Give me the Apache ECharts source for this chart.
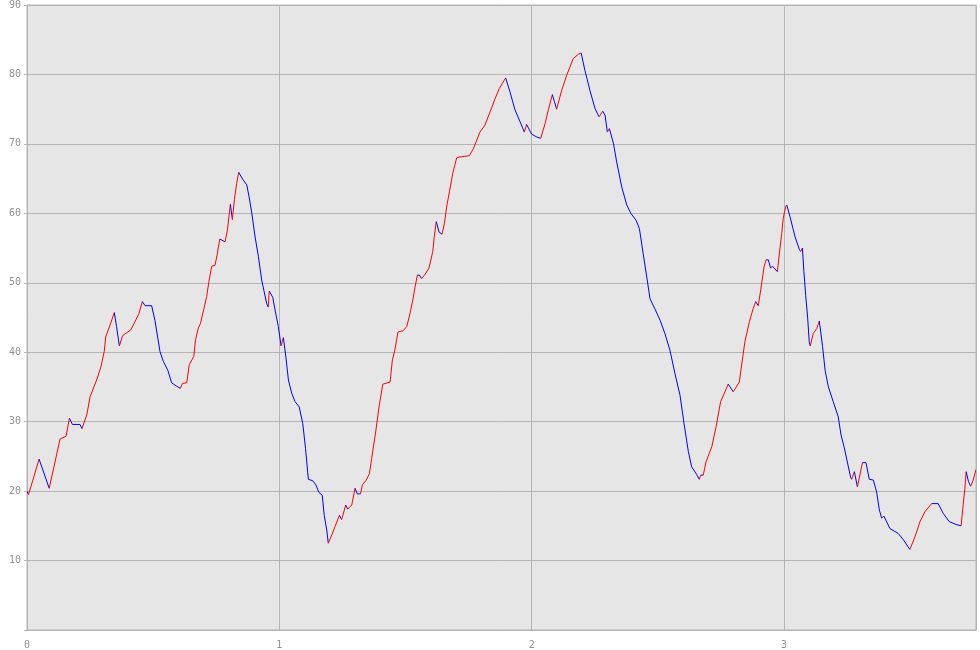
<!DOCTYPE html>
<html>
<head>
<meta charset="utf-8">
<script src="https://cdn.jsdelivr.net/npm/echarts@6/dist/echarts.min.js"></script>
<style>
html,body{margin:0;padding:0;background:#fff;}
#chart{width:980px;height:650px;}
</style>
</head>
<body>
<div id="chart"></div>
<script>
// Data
const xValues = [
0.000,0.006,0.048,0.088,0.131,0.155,0.168,0.180,0.210,0.218,0.237,0.250,0.276,0.293,0.306,0.312,0.329,0.346,0.355,0.366,
0.379,0.395,0.411,0.428,0.444,0.457,0.468,0.494,0.507,0.527,0.540,0.558,0.573,0.593,0.608,0.616,0.633,0.643,0.661,0.668,
0.679,0.687,0.700,0.712,0.721,0.732,0.745,0.754,0.764,0.785,0.794,0.806,0.814,0.822,0.831,0.839,0.855,0.871,0.881,0.891,
0.904,0.917,0.930,0.950,0.956,0.960,0.974,0.983,0.996,1.007,1.016,1.026,1.036,1.049,1.062,1.079,1.093,1.104,1.115,1.132,
1.145,1.157,1.170,1.178,1.188,1.194,1.208,1.221,1.238,1.247,1.263,1.271,1.287,1.300,1.309,1.322,1.329,1.343,1.357,1.366,
1.383,1.395,1.410,1.439,1.448,1.458,1.470,1.491,1.505,1.518,1.529,1.538,1.547,1.555,1.564,1.577,1.593,1.608,1.614,1.622,
1.633,1.645,1.654,1.663,1.674,1.687,1.703,1.712,1.753,1.769,1.795,1.815,1.835,1.855,1.872,1.897,1.914,1.934,1.954,1.971,
1.980,2.000,2.020,2.036,2.053,2.066,2.082,2.090,2.099,2.119,2.139,2.165,2.185,2.196,2.211,2.231,2.251,2.267,2.282,2.291,
2.300,2.308,2.324,2.337,2.357,2.377,2.393,2.414,2.427,2.442,2.458,2.469,2.489,2.509,2.528,2.548,2.568,2.588,2.604,2.621,
2.634,2.654,2.664,2.670,2.680,2.691,2.714,2.731,2.749,2.766,2.779,2.799,2.823,2.835,2.845,2.863,2.878,2.888,2.898,2.908,
2.921,2.929,2.938,2.947,2.954,2.974,2.981,2.991,2.997,3.007,3.011,3.024,3.044,3.061,3.066,3.073,3.079,3.086,3.094,3.100,
3.104,3.116,3.130,3.140,3.153,3.163,3.176,3.195,3.215,3.226,3.238,3.251,3.264,3.268,3.279,3.291,3.311,3.325,3.338,3.354,
3.367,3.378,3.387,3.396,3.420,3.453,3.473,3.499,3.519,3.539,3.558,3.585,3.611,3.631,3.655,3.682,3.702,3.708,3.717,3.722,
3.731,3.740,3.750,3.761
];
const yValues = [
20.0,19.5,24.6,20.4,27.5,27.9,30.5,29.6,29.6,29.0,31.0,33.6,36.0,37.9,40.1,42.2,43.9,45.7,43.7,40.9,
42.4,42.8,43.2,44.4,45.6,47.3,46.7,46.7,44.6,40.1,38.7,37.4,35.6,35.1,34.8,35.5,35.6,38.2,39.4,41.8,
43.5,44.1,46.1,48.0,50.2,52.4,52.5,54.1,56.3,55.9,57.5,61.3,59.1,62.0,64.3,65.9,64.9,64.1,62.2,60.0,
56.6,53.8,50.4,47.0,46.5,48.8,47.9,46.1,43.7,40.9,42.1,39.3,36.0,34.1,32.9,32.1,29.7,26.1,21.7,21.5,
20.9,19.8,19.4,16.5,14.4,12.5,13.7,14.9,16.5,15.9,18.0,17.4,18.0,20.4,19.6,19.6,20.9,21.5,22.5,24.7,
28.8,32.1,35.4,35.7,38.9,40.3,42.9,43.1,43.7,45.6,47.5,49.4,51.1,51.1,50.6,51.2,52.1,54.5,56.6,58.8,
57.3,57.0,58.5,60.9,63.1,65.7,68.0,68.1,68.3,69.3,71.7,72.7,74.6,76.5,78.0,79.5,77.5,74.9,73.2,71.7,
72.8,71.4,71.0,70.8,72.9,74.9,77.1,76.1,75.0,77.7,79.9,82.3,82.9,83.1,80.6,77.7,75.1,73.9,74.7,74.1,
71.7,72.2,70.1,67.4,63.8,61.2,60.0,59.0,57.8,54.2,50.4,47.7,46.2,44.6,42.7,40.3,36.9,33.8,29.7,25.7,
23.5,22.4,21.7,22.3,22.3,24.2,26.4,29.3,32.9,34.3,35.4,34.3,35.7,38.9,41.5,44.4,46.3,47.3,46.7,49.0,
52.3,53.3,53.3,52.1,52.4,51.6,54.0,57.1,59.3,61.0,61.2,59.5,56.6,54.8,54.5,55.0,51.6,48.2,44.9,41.5,
40.9,42.7,43.4,44.5,40.8,37.4,35.0,32.9,30.7,28.1,26.4,24.2,22.0,21.7,22.8,20.6,24.1,24.1,21.7,21.6,
19.9,17.3,16.1,16.4,14.6,13.9,13.0,11.6,13.4,15.6,17.0,18.2,18.2,16.8,15.6,15.2,15.0,17.3,20.4,22.8,
21.4,20.7,21.6,23.1
];
const xTicks = [0, 1, 2, 3];
const yTicks = [10, 20, 30, 40, 50, 60, 70, 80, 90];

const segments = [];
for (let i = 0; i < xValues.length - 1; i++) {
  segments.push([xValues[i], yValues[i], xValues[i + 1], yValues[i + 1]]);
}

const chart = echarts.init(document.getElementById('chart'), null, {renderer: 'canvas'});
const labelStyle = {color: '#909090', fontFamily: 'DejaVu Sans Mono', fontSize: 10};
chart.setOption({
  animation: false,
  grid: {
    left: 27, right: 4, top: 5, bottom: 20,
    show: true, backgroundColor: '#e6e6e6', borderColor: '#b4b4b4', borderWidth: 1
  },
  xAxis: {
    type: 'value', min: 0, max: xValues[xValues.length - 1], interval: 1,
    axisLine: {show: true, lineStyle: {color: '#b4b4b4'}},
    axisTick: {show: false},
    splitLine: {show: true, lineStyle: {color: '#b4b4b4', width: 1}},
    axisLabel: Object.assign({
      margin: 10, showMaxLabel: false,
      formatter: v => xTicks.includes(v) ? String(v) : ''
    }, labelStyle)
  },
  yAxis: {
    type: 'value', min: 0, max: 90, interval: 10,
    axisLine: {show: true, lineStyle: {color: '#b4b4b4'}},
    axisTick: {show: true, length: 3, lineStyle: {color: '#b4b4b4'}},
    splitLine: {show: true, lineStyle: {color: '#b4b4b4', width: 1}},
    axisLabel: Object.assign({
      margin: 6,
      formatter: v => yTicks.includes(v) ? String(v) : ''
    }, labelStyle)
  },
  series: [{
    type: 'custom',
    coordinateSystem: 'cartesian2d',
    clip: true,
    encode: {x: [0, 2], y: [1, 3]},
    data: segments,
    renderItem: function (params, api) {
      const a = api.coord([api.value(0), api.value(1)]);
      const b = api.coord([api.value(2), api.value(3)]);
      const up = api.value(3) > api.value(1);
      return {
        type: 'line',
        shape: {x1: a[0], y1: a[1], x2: b[0], y2: b[1]},
        style: {stroke: up ? '#ff0000' : '#0000ff', lineWidth: 1}
      };
    }
  }]
});
</script>
</body>
</html>
